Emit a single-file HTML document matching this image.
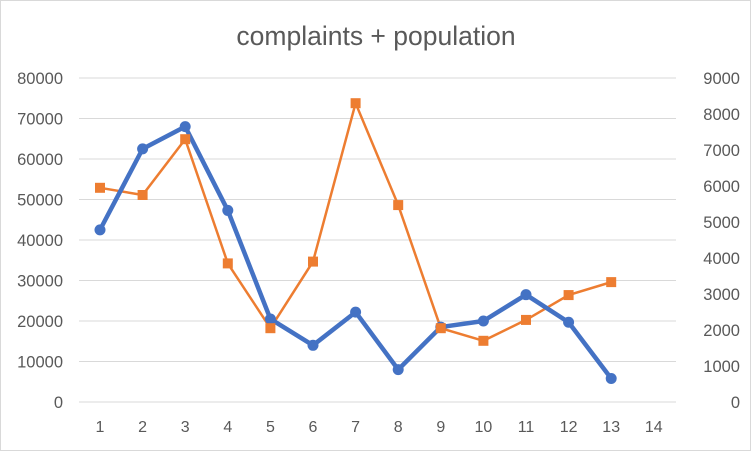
<!DOCTYPE html>
<html><head><meta charset="utf-8"><style>
body{margin:0;background:#fff}
svg{display:block;font-family:"Liberation Sans",sans-serif}
</style></head><body>
<svg id="chart" width="751" height="451" xmlns="http://www.w3.org/2000/svg">
<rect x="0.5" y="0.5" width="750" height="450" fill="#fff" stroke="#d9d9d9"/>
<text x="376" y="45" text-anchor="middle" font-size="26.5" fill="#595959">complaints + population</text>
<g id="grid"></g><g id="axes"></g><g id="series"></g>
</svg>
<script>
const categories=[1,2,3,4,5,6,7,8,9,10,11,12,13,14];
const leftTicks=[0,10000,20000,30000,40000,50000,60000,70000,80000];
const rightTicks=[0,1000,2000,3000,4000,5000,6000,7000,8000,9000];
const complaints=[42500,62500,68000,47300,20500,14000,22200,8000,18500,20000,26500,19700,5800];
const population=[5950,5750,7300,3850,2050,3900,8300,5470,2050,1700,2280,2970,3330];
const NS="http://www.w3.org/2000/svg";
const x0=100,dx=42.6,yb=402,yt=78,xl=79,xr=676;
const xs=i=>x0+i*dx;
const yl=v=>yb-(v/80000)*(yb-yt);
const yr=v=>yb-(v/9000)*(yb-yt);
function mk(t,a,p){const e=document.createElementNS(NS,t);for(const k in a)e.setAttribute(k,a[k]);p.appendChild(e);return e;}
const g=document.getElementById('grid'),ax=document.getElementById('axes'),s=document.getElementById('series');
leftTicks.forEach(v=>{
 const l=mk('line',{x1:xl,x2:xr,y1:yl(v),y2:yl(v),stroke:'#d9d9d9','stroke-width':1},g);
 
 
 const t=mk('text',{x:63,y:yl(v)+6,'text-anchor':'end','font-size':16.5,fill:'#595959'},ax);t.textContent=v;
 
 
});
rightTicks.forEach(v=>{
 const t=mk('text',{x:740,y:yr(v)+6,'text-anchor':'end','font-size':16.5,fill:'#595959'},ax);t.textContent=v;
 
 
});
categories.forEach((c,i)=>{
 const t=mk('text',{x:xs(i),y:432,'text-anchor':'middle','font-size':16,fill:'#595959'},ax);t.textContent=c;
 
 
});
const pl=mk('polyline',{points:population.map((v,i)=>xs(i)+','+yr(v)).join(' '),fill:'none',stroke:'#ed7d31','stroke-width':2.5},s);


const cl=mk('polyline',{points:complaints.map((v,i)=>xs(i)+','+yl(v)).join(' '),fill:'none',stroke:'#4472c4','stroke-width':4.5,'stroke-linejoin':'round'},s);


complaints.forEach((v,i)=>{
 const c=mk('circle',{cx:xs(i),cy:yl(v),r:5.5,fill:'#4472c4'},s);
 
 
});
population.forEach((v,i)=>{
 const r=mk('rect',{x:xs(i)-5,y:yr(v)-5,width:10,height:10,fill:'#ed7d31'},s);
 
 
});
</script>
</body></html>
